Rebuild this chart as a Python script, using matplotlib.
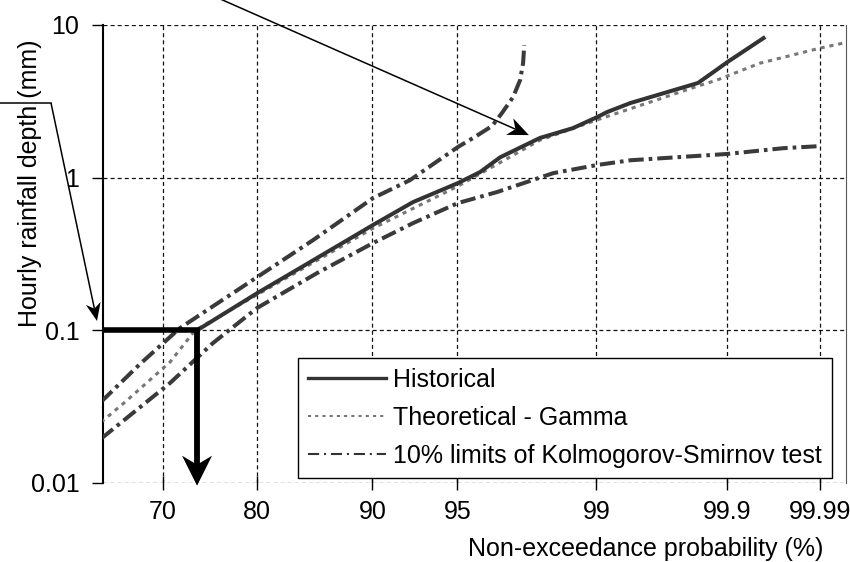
import numpy as np
import matplotlib
matplotlib.use('Agg')
import matplotlib.pyplot as plt
from matplotlib.lines import Line2D
from matplotlib.patches import Polygon
from matplotlib.transforms import IdentityTransform
from matplotlib.ticker import NullLocator

plt.rcParams['font.family'] = ['Liberation Sans', 'DejaVu Sans']
plt.rcParams['lines.scale_dashes'] = False

# non-exceedance probability (%) vs hourly depth (mm)
hist_p = [73.77, 80.04, 84.13, 90.05, 92.66, 95.03, 95.98, 96.73, 97.91, 98.62,
          99.01, 99.145, 99.40, 99.818, 99.874, 99.900, 99.956]
hist_mm = [0.1, 0.175, 0.256, 0.490, 0.692, 0.922, 1.088, 1.36, 1.82, 2.11,
           2.49, 2.69, 3.08, 4.17, 5.07, 5.71, 8.21]

gamma_p = [63.0, 65.73, 70.80, 73.55, 80.04, 90.05, 95.03, 97.91, 99.01,
           99.818, 99.876, 99.952, 99.990, 99.996]
gamma_mm = [0.0250, 0.0339, 0.0620, 0.100, 0.171, 0.466, 0.88, 1.76, 2.39,
            3.98, 4.36, 5.62, 7.06, 7.80]

ks_upper_p = [63.0, 67.43, 71.9, 80.04, 85.29, 90.05, 92.48, 95.03, 95.82,
              96.44, 96.79, 97.155, 97.37, 97.456, 97.49]
ks_upper_mm = [0.0340, 0.0602, 0.1035, 0.223, 0.390, 0.735, 0.964, 1.59, 1.87,
               2.18, 2.65, 3.37, 4.36, 5.62, 7.39]

ks_lower_p = [63.0, 70.80, 75.49, 80.04, 85.63, 90.05, 92.66, 95.03, 96.62,
              98.22, 99.01, 99.40, 99.90, 99.973, 99.990]
ks_lower_mm = [0.0195, 0.0452, 0.0826, 0.140, 0.237, 0.373, 0.504, 0.682, 0.805,
               1.07, 1.21, 1.30, 1.43, 1.56, 1.61]

x_ticks = [70, 80, 90, 95, 99, 99.9, 99.99]
x_labels = ['70', '80', '90', '95', '99', '99.9', '99.99']
y_ticks = [0.01, 0.1, 1, 10]
y_labels = ['0.01', '0.1', '1', '10']
labels = ['Historical', 'Theoretical - Gamma',
          '10% limits of Kolmogorov-Smirnov test']


# Weibull probability paper: ln(-ln(1 - p))
def fwd(p):
    p = np.clip(np.asarray(p, dtype=float), 1e-6, 100 - 1e-9)
    return np.log(-np.log(1 - p / 100))


def inv(u):
    return 100 * (1 - np.exp(-np.exp(u)))


def stealth_arrow(fig, tail, tip, length, half_width, lw, back=0.3, z=8):
    # tail/tip in display pixels; shaft stops in the notch of the head
    tail = np.asarray(tail, float)
    tip = np.asarray(tip, float)
    d = (tip - tail) / np.hypot(*(tip - tail))
    n = np.array([-d[1], d[0]])
    base = tip - d * length
    notch = tip - d * length * (1 - back)
    fig.add_artist(Line2D([tail[0], notch[0]], [tail[1], notch[1]],
                          transform=IdentityTransform(), color='black', lw=lw,
                          solid_capstyle='butt', zorder=z))
    head = [tip, base + n * half_width, notch, base - n * half_width]
    fig.add_artist(Polygon(head, closed=True, transform=IdentityTransform(),
                           facecolor='black', edgecolor='none', zorder=z))


W, H = 850, 562
fig = plt.figure(figsize=(W / 100, H / 100), dpi=100)
ax = fig.add_axes([103 / W, 1 - 483 / H, 743 / W, 458 / H])
ax.set_xscale('function', functions=(fwd, inv))
ax.set_yscale('log')
ax.set_xlim(63.221, 99.99535)
ax.set_ylim(0.01, 10)

ax.plot(gamma_p, gamma_mm, color='#777777', lw=2.2, dashes=(3, 3.5), zorder=3)
ax.plot(ks_upper_p, ks_upper_mm, color='#3a3a3a', lw=2.9,
        dashes=(11, 3.6, 2.6, 3.6), zorder=3)
ax.plot(ks_lower_p, ks_lower_mm, color='#3a3a3a', lw=2.9,
        dashes=(11, 3.6, 2.6, 3.6), zorder=3)
ax.plot(hist_p, hist_mm, color='#333333', lw=2.9, zorder=4)

# read-off of the 0.1 mm depth
ax.plot([63.221, hist_p[0]], [hist_mm[0], hist_mm[0]], color='black', lw=4,
        solid_capstyle='projecting', zorder=6)

ax.set_xticks(x_ticks)
ax.set_xticklabels(x_labels)
ax.set_yticks(y_ticks)
ax.set_yticklabels(y_labels)
ax.xaxis.set_minor_locator(NullLocator())
ax.yaxis.set_minor_locator(NullLocator())
ax.tick_params(axis='x', direction='inout', length=10, width=1, pad=7,
               labelsize=18)
ax.tick_params(axis='y', direction='out', length=8, width=1, pad=9,
               labelsize=18)

ax.grid(True, color='#111111', lw=0.9, linestyle=(0, (2.9, 2.2)))
ax.set_axisbelow(True)
ax.spines['top'].set_visible(False)
ax.spines['bottom'].set_visible(False)
ax.spines['left'].set_linewidth(1.5)
ax.spines['right'].set_color('#555555')

ax.set_xlabel('Non-exceedance probability (%)', fontsize=18)
ax.xaxis.set_label_coords(0.731, -0.118)
ax.set_ylabel('Hourly rainfall depth (mm)', fontsize=18)
ax.yaxis.set_label_coords(-0.082, 0.655)

handles = [Line2D([], [], color='#333333', lw=2.4),
           Line2D([], [], color='#666666', lw=1.3, dashes=(2.2, 3)),
           Line2D([], [], color='#333333', lw=1.5, dashes=(8, 3.5, 1.5, 3.5))]
leg = ax.legend(handles, labels, loc='upper left',
                bbox_to_anchor=(298 / W, 1 - 358 / H),
                bbox_transform=fig.transFigure, fontsize=18, frameon=True,
                fancybox=False, edgecolor='black', framealpha=1,
                borderpad=0.4, handlelength=3.1, handletextpad=0.3,
                labelspacing=0.55, borderaxespad=0)
leg.get_frame().set_linewidth(1.0)
leg.set_zorder(7)

# arrows, positioned in display pixels
to_px = ax.transData.transform
fig_px = fig.transFigure.transform
stealth_arrow(fig, to_px((hist_p[0], hist_mm[0])), to_px((hist_p[0], 0.0096)),
              length=30, half_width=15, lw=4.2)
stealth_arrow(fig, fig_px((218 / W, 1 + 2 / H)), to_px((97.62, 1.90)),
              length=21, half_width=9, lw=1.1)
fig.add_artist(Line2D([0, 51 / W], [1 - 103 / H, 1 - 103 / H],
                      transform=fig.transFigure, color='black', lw=1.1))
stealth_arrow(fig, fig_px((51 / W, 1 - 103 / H)), fig_px((97 / W, 1 - 321 / H)),
              length=18, half_width=7.5, lw=1.1)

fig.savefig('out.png', dpi=100)
